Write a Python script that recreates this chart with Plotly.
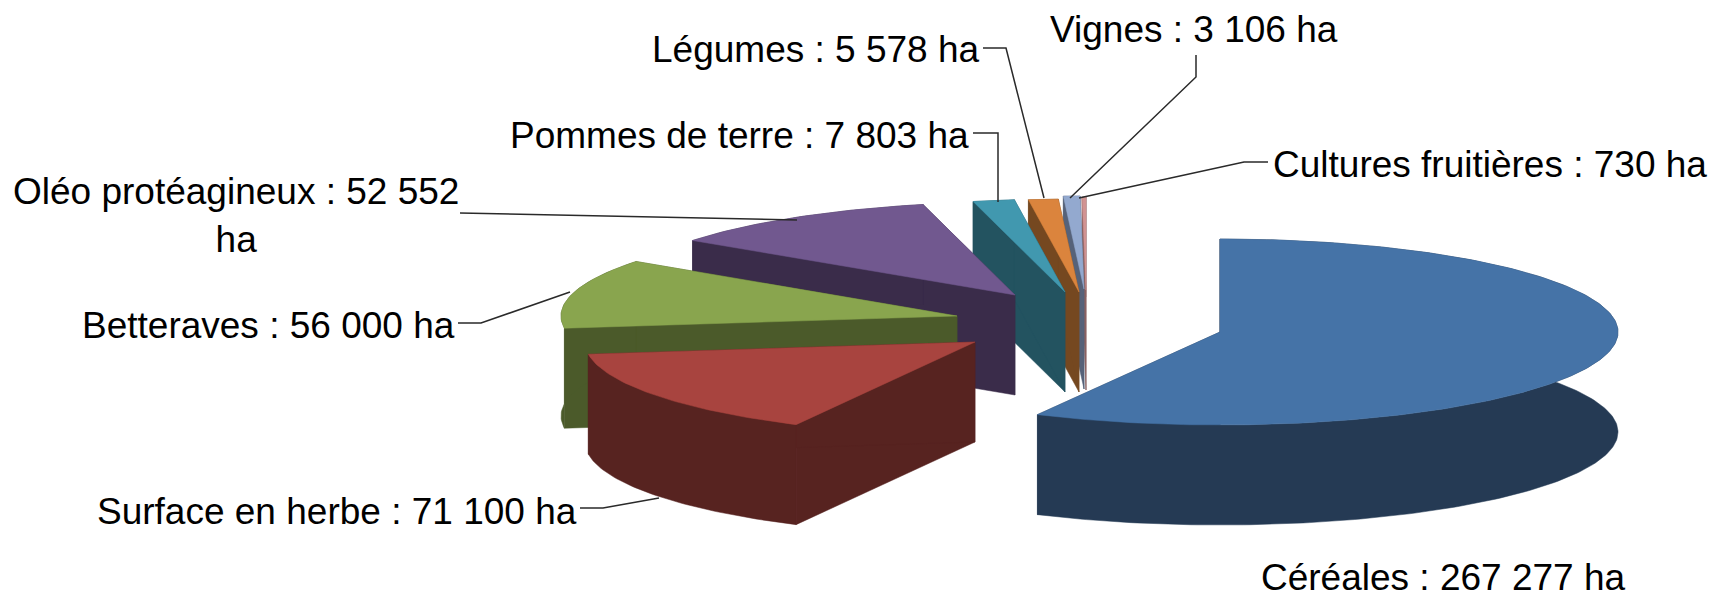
import numpy as np
import plotly.graph_objects as go

# Data
categories = ["Céréales", "Surface en herbe", "Betteraves", "Oléo protéagineux",
              "Pommes de terre", "Légumes", "Vignes", "Cultures fruitières"]
values_ha = [267277, 71100, 56000, 52552, 7803, 5578, 3106, 730]

# Styles
top_colors = ["#4573A7", "#A8443F", "#89A54E", "#71588F", "#4198AF", "#DB843D", "#93A9CF", "#D19392"]
side_colors = ["#253A54", "#572320", "#4B5A2A", "#3A2C4A", "#235360", "#754820", "#566279", "#8A6261"]

# Layout of the exploded tilted pie, in page pixels (axes are 1:1 with pixels)
W, H = 1711, 598
RX, RY, DEPTH = 398, 93, 100
apex_x = [1220, 975, 957, 1015, 1065, 1079, 1084, 1086]
apex_y = [332, 342, 316, 295, 292, 292, 289, 290]
slice_rx = [1.0, 0.98, 0.995, 1.0, 1.0, 1.0, 1.0, 1.0]

label_x = [1259, 579, 457, 236, 971, 981, 1194, 1271]
label_y = [577, 511, 325, 215, 135, 49, 29, 164]
label_anchor = ["left", "right", "right", "center", "right", "right", "center", "left"]
leader_x = [None, [580, 603, 659], [458, 481, 570], [460, 797], [973, 998, 998],
            [983, 1006, 1044], [1196, 1196, 1070], [1268, 1244, 1079]]
leader_y = [None, [508, 508, 498], [323, 323, 292], [213, 220], [133, 133, 202],
            [48, 48, 198], [55, 77, 198], [162, 162, 198]]
FONT = "Liberation Sans"
FONT_SIZE = 37


def fmt(v):
    return f"{v:,}".replace(",", " ")


total = sum(values_ha)
edges = np.concatenate([[0], np.cumsum(values_ha)]) / total * 2 * np.pi

fig = go.Figure()


def poly(xs, ys, color):
    fig.add_trace(go.Scatter(x=list(xs), y=list(ys), mode="lines", fill="toself",
                             fillcolor=color, line=dict(color=color, width=0.5),
                             hoverinfo="skip", showlegend=False))


# Painter's order: smallest rear slices first, Céréales last
for i in [7, 6, 5, 4, 3, 2, 1, 0]:
    a = np.linspace(edges[i], edges[i + 1], max(4, int((edges[i + 1] - edges[i]) * 60)))
    ax, ay = apex_x[i], apex_y[i]
    rim_x = ax + RX * slice_rx[i] * np.sin(a)
    rim_y = ay - RY * np.cos(a)
    # cut faces
    for rx_, ry_ in ((rim_x[0], rim_y[0]), (rim_x[-1], rim_y[-1])):
        poly([ax, rx_, rx_, ax, ax], [ay, ry_, ry_ + DEPTH, ay + DEPTH, ay], side_colors[i])
    # outer wall
    poly(np.r_[rim_x, rim_x[::-1], rim_x[0]], np.r_[rim_y, rim_y[::-1] + DEPTH, rim_y[0]], side_colors[i])
    # top face
    poly(np.r_[ax, rim_x, ax], np.r_[ay, rim_y, ay], top_colors[i])

# Leader lines
for lx, ly in zip(leader_x, leader_y):
    if lx:
        fig.add_trace(go.Scatter(x=lx, y=ly, mode="lines", line=dict(color="#2A2A2A", width=1.5),
                                 hoverinfo="skip", showlegend=False))

# Labels
for i, cat in enumerate(categories):
    text = f"{cat} : {fmt(values_ha[i])} ha"
    if cat == "Oléo protéagineux":
        text = f"{cat} : {fmt(values_ha[i])}<br>ha"
    fig.add_annotation(x=label_x[i], y=label_y[i], text=text, showarrow=False,
                       xanchor=label_anchor[i], yanchor="middle", align="center",
                       font=dict(family=FONT, size=FONT_SIZE, color="black"))

fig.update_layout(width=W, height=H, margin=dict(l=0, r=0, t=0, b=0),
                  paper_bgcolor="white", plot_bgcolor="white",
                  xaxis=dict(range=[0, W], visible=False, fixedrange=True),
                  yaxis=dict(range=[H, 0], visible=False, fixedrange=True))

fig.write_html("out.html", config={"displayModeBar": False},
               post_script="document.body.style.margin='0';document.body.style.overflow='hidden';")
